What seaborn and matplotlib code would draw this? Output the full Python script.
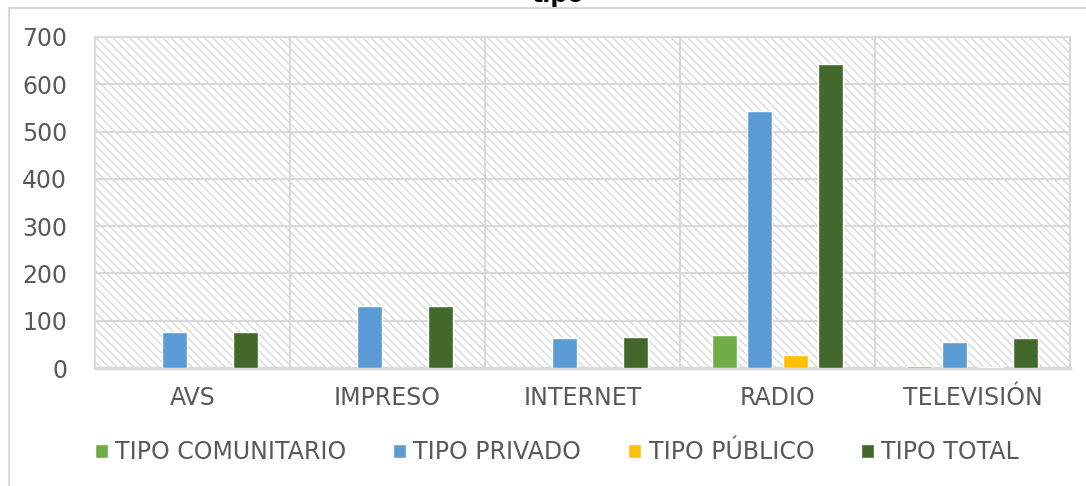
import matplotlib
matplotlib.use('Agg')
import matplotlib.pyplot as plt
from matplotlib.patches import Rectangle
import numpy as np
import pandas as pd
import seaborn as sns

categorias = ['AVS', 'IMPRESO', 'INTERNET', 'RADIO', 'TELEVISIÓN']
series = ['TIPO COMUNITARIO', 'TIPO PRIVADO', 'TIPO PÚBLICO', 'TIPO TOTAL']
comunitario = [0, 0, 0, 70, 4]
privado = [77, 132, 64, 543, 54]
publico = [0, 0, 0, 27, 2]
total = [77, 132, 66, 643, 64]
colores = ['#70AD47', '#5B9BD5', '#FFC000', '#43682B']

df = pd.DataFrame({
    'categoria': categorias * 4,
    'serie': np.repeat(series, len(categorias)),
    'valor': comunitario + privado + publico + total,
})

sns.set_style('white')
plt.rcParams['font.family'] = ['DejaVu Sans']
plt.rcParams['hatch.color'] = '#d9d9d9'
plt.rcParams['hatch.linewidth'] = 1.0
gris = '#595959'
linea = '#d9d9d9'

fig = plt.figure(figsize=(10.86, 4.86), dpi=100)
ax = fig.add_axes([95 / 1086, 118 / 486, 975 / 1086, 331 / 486])

# fondo con tramado diagonal
ax.add_patch(Rectangle((0, 0), 1, 1, transform=ax.transAxes, facecolor='white',
                       edgecolor=linea, hatch='\\\\\\\\', lw=0, zorder=0))

sns.barplot(data=df, x='categoria', y='valor', hue='serie', order=categorias,
            hue_order=series, palette=colores, width=0.72, gap=0.29,
            saturation=1, legend=False, ax=ax, zorder=3)

ax.set_xlim(-0.5, 4.5)
ax.set_ylim(0, 700)
ax.set_yticks(range(0, 701, 100))
ax.set_xticks(np.arange(0.5, 4.5, 1), minor=True)
ax.grid(axis='y', which='major', color=linea, lw=1.5, zorder=1)
ax.grid(axis='x', which='minor', color=linea, lw=1.5, zorder=1)
ax.set_axisbelow(True)
ax.set_xlabel('')
ax.set_ylabel('')
ax.tick_params(axis='both', which='both', length=0, labelsize=17, colors=gris)
ax.tick_params(axis='x', pad=13)
ax.tick_params(axis='y', pad=20)
for s in ax.spines.values():
    s.set_color(linea)
    s.set_linewidth(1.5)
ax.spines['bottom'].set_linewidth(2.5)

handles = [Rectangle((0, 0), 1, 1, facecolor=c) for c in colores]
fig.legend(handles, series, loc='center', bbox_to_anchor=(557 / 1086, 1 - 452 / 486),
           ncol=4, frameon=False, fontsize=17, labelcolor=gris,
           handlelength=0.55, handleheight=0.55, handletextpad=0.3, columnspacing=2.0)

# marco del grafico
fig.patches.append(Rectangle((8.5 / 1086, -0.1), 1.2, (486 - 8.5) / 486 + 0.1,
                             transform=fig.transFigure, fill=False,
                             edgecolor=linea, lw=1.5, figure=fig))

fig.text(558 / 1086, 1 - 2 / 486, 'tipo', ha='center', va='baseline',
         fontsize=17, fontweight='bold', color='black')

fig.savefig('out.png', dpi=100)
